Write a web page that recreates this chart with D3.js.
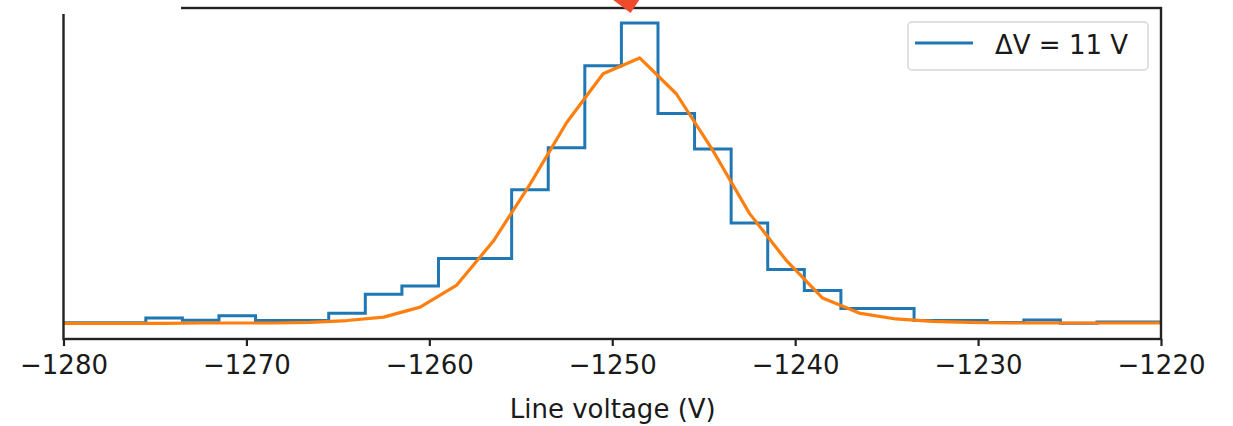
<!DOCTYPE html>
<html>
<head>
<meta charset="utf-8">
<script src="https://cdn.jsdelivr.net/npm/d3@7"></script>
<style>
  html, body { margin: 0; padding: 0; background: #fff; }
  svg { display: block; font-family: "DejaVu Sans", sans-serif; }
</style>
</head>
<body>
<svg id="chart" width="1233" height="426"></svg>
<script>
// Histogram of measured line voltage: bin edges (V) and normalised counts per bin
const binEdges = [-1281.5, -1279.5, -1277.5, -1275.5, -1273.5, -1271.5, -1269.5, -1267.5,
  -1265.5, -1263.5, -1261.5, -1259.5, -1257.5, -1255.5, -1253.5, -1251.5, -1249.5,
  -1247.5, -1245.5, -1243.5, -1241.5, -1239.5, -1237.5, -1235.5, -1233.5, -1231.5,
  -1229.5, -1227.5, -1225.5, -1223.5, -1221.5, -1219.5];
const histValues = [0.0004, 0.0004, 0.0004, 0.0019, 0.0012, 0.0026, 0.0011, 0.0011,
  0.0034, 0.0095, 0.0122, 0.0210, 0.0210, 0.0431, 0.0566, 0.0829, 0.0966,
  0.0676, 0.0562, 0.0324, 0.0175, 0.0107, 0.0050, 0.0050, 0.0011, 0.0011,
  0.0005, 0.0013, 0.0002, 0.0006, 0.0006];

// Fitted profile evaluated at the bin centres
const fitCenters = [-1280.5, -1278.5, -1276.5, -1274.5, -1272.5, -1270.5, -1268.5, -1266.5,
  -1264.5, -1262.5, -1260.5, -1258.5, -1256.5, -1254.5, -1252.5, -1250.5, -1248.5,
  -1246.5, -1244.5, -1242.5, -1240.5, -1238.5, -1236.5, -1234.5, -1232.5, -1230.5,
  -1228.5, -1226.5, -1224.5, -1222.5, -1220.5, -1218.5];
const fitValues = [0.0002, 0.0002, 0.0002, 0.0002, 0.0003, 0.0003, 0.0003, 0.0005,
  0.0011, 0.0022, 0.0054, 0.0125, 0.0266, 0.0448, 0.0646, 0.0803, 0.0854,
  0.0739, 0.0557, 0.0355, 0.0205, 0.0083, 0.0035, 0.0016, 0.0008, 0.0005,
  0.0003, 0.0003, 0.0003, 0.0003, 0.0003, 0.0003];

const xTicks = [-1280, -1270, -1260, -1250, -1240, -1230, -1220];
const xDomain = [-1280, -1220];
const xLabel = "Line voltage (V)";
const legendLabel = "ΔV = 11 V";
const peakMarker = -1249;

const blue = "#1f77b4", orange = "#ff7f0e";
const plot = { left: 63.5, right: 1161, top: 8, bottom: 339 };

const svg = d3.select("#chart");

const x = d3.scaleLinear().domain(xDomain).range([plot.left, plot.right]);
const lo = 0, hi = d3.max(histValues.concat(fitValues));
const pad = 0.05 * (hi - lo);
const y = d3.scaleLinear().domain([lo - pad, hi + pad]).range([plot.bottom, plot.top]);

svg.append("clipPath").attr("id", "plotClip")
  .append("rect")
  .attr("x", plot.left).attr("y", plot.top)
  .attr("width", plot.right - plot.left).attr("height", plot.bottom - plot.top);

const g = svg.append("g").attr("clip-path", "url(#plotClip)");

// step outline of the histogram
const stepPts = binEdges.map((e, i) => [e, histValues[Math.min(i, histValues.length - 1)]]);
g.append("path")
  .attr("d", d3.line().x(d => x(d[0])).y(d => y(d[1])).curve(d3.curveStepAfter)(stepPts))
  .attr("fill", "none").attr("stroke", blue).attr("stroke-width", 3)
  .attr("stroke-linejoin", "miter");

// fitted profile
g.append("path")
  .attr("d", d3.line().x((d, i) => x(fitCenters[i])).y(d => y(d))(fitValues))
  .attr("fill", "none").attr("stroke", orange).attr("stroke-width", 3.2)
  .attr("stroke-linejoin", "round").attr("stroke-linecap", "square");

// frame
const frame = svg.append("g").attr("stroke", "#222").attr("stroke-width", 2.4).attr("fill", "none");
frame.append("rect")
  .attr("x", plot.left).attr("y", plot.top)
  .attr("width", plot.right - plot.left).attr("height", plot.bottom - plot.top);
// top-left corner of the frame is covered
svg.append("rect").attr("x", 0).attr("y", 0).attr("width", 181).attr("height", 14).attr("fill", "#fff");

// x axis
const axis = svg.append("g")
  .attr("transform", `translate(0,${plot.bottom})`)
  .call(d3.axisBottom(x).tickValues(xTicks).tickSize(7).tickPadding(10).tickFormat(d3.format("d")));
axis.select(".domain").remove();
axis.selectAll(".tick line").attr("stroke", "#222").attr("stroke-width", 2.2);
axis.selectAll(".tick text")
  .attr("font-family", "DejaVu Sans, sans-serif")
  .attr("font-size", 26).attr("fill", "#1a1a1a");

svg.append("text")
  .attr("x", (plot.left + plot.right) / 2 + 0.5).attr("y", 418)
  .attr("text-anchor", "middle")
  .attr("font-size", 26).attr("fill", "#1a1a1a")
  .text(xLabel);

// legend
const lg = svg.append("g");
lg.append("rect")
  .attr("x", 908).attr("y", 22).attr("width", 240).attr("height", 48).attr("rx", 4)
  .attr("fill", "#fff").attr("fill-opacity", 0.8)
  .attr("stroke", "#d6d6d6").attr("stroke-width", 1.5);
lg.append("line")
  .attr("x1", 915).attr("x2", 973).attr("y1", 43).attr("y2", 43)
  .attr("stroke", blue).attr("stroke-width", 3);
lg.append("text")
  .attr("x", 995).attr("y", 54)
  .attr("font-size", 26).attr("fill", "#1a1a1a")
  .text(legendLabel);

// peak marker arrowhead above the frame
const px = x(peakMarker);
svg.append("path")
  .attr("d", `M${px - 20},-2 L${px + 10},-2 L${px},13 Z`)
  .attr("fill", "#ee4a2c");
</script>
</body>
</html>
